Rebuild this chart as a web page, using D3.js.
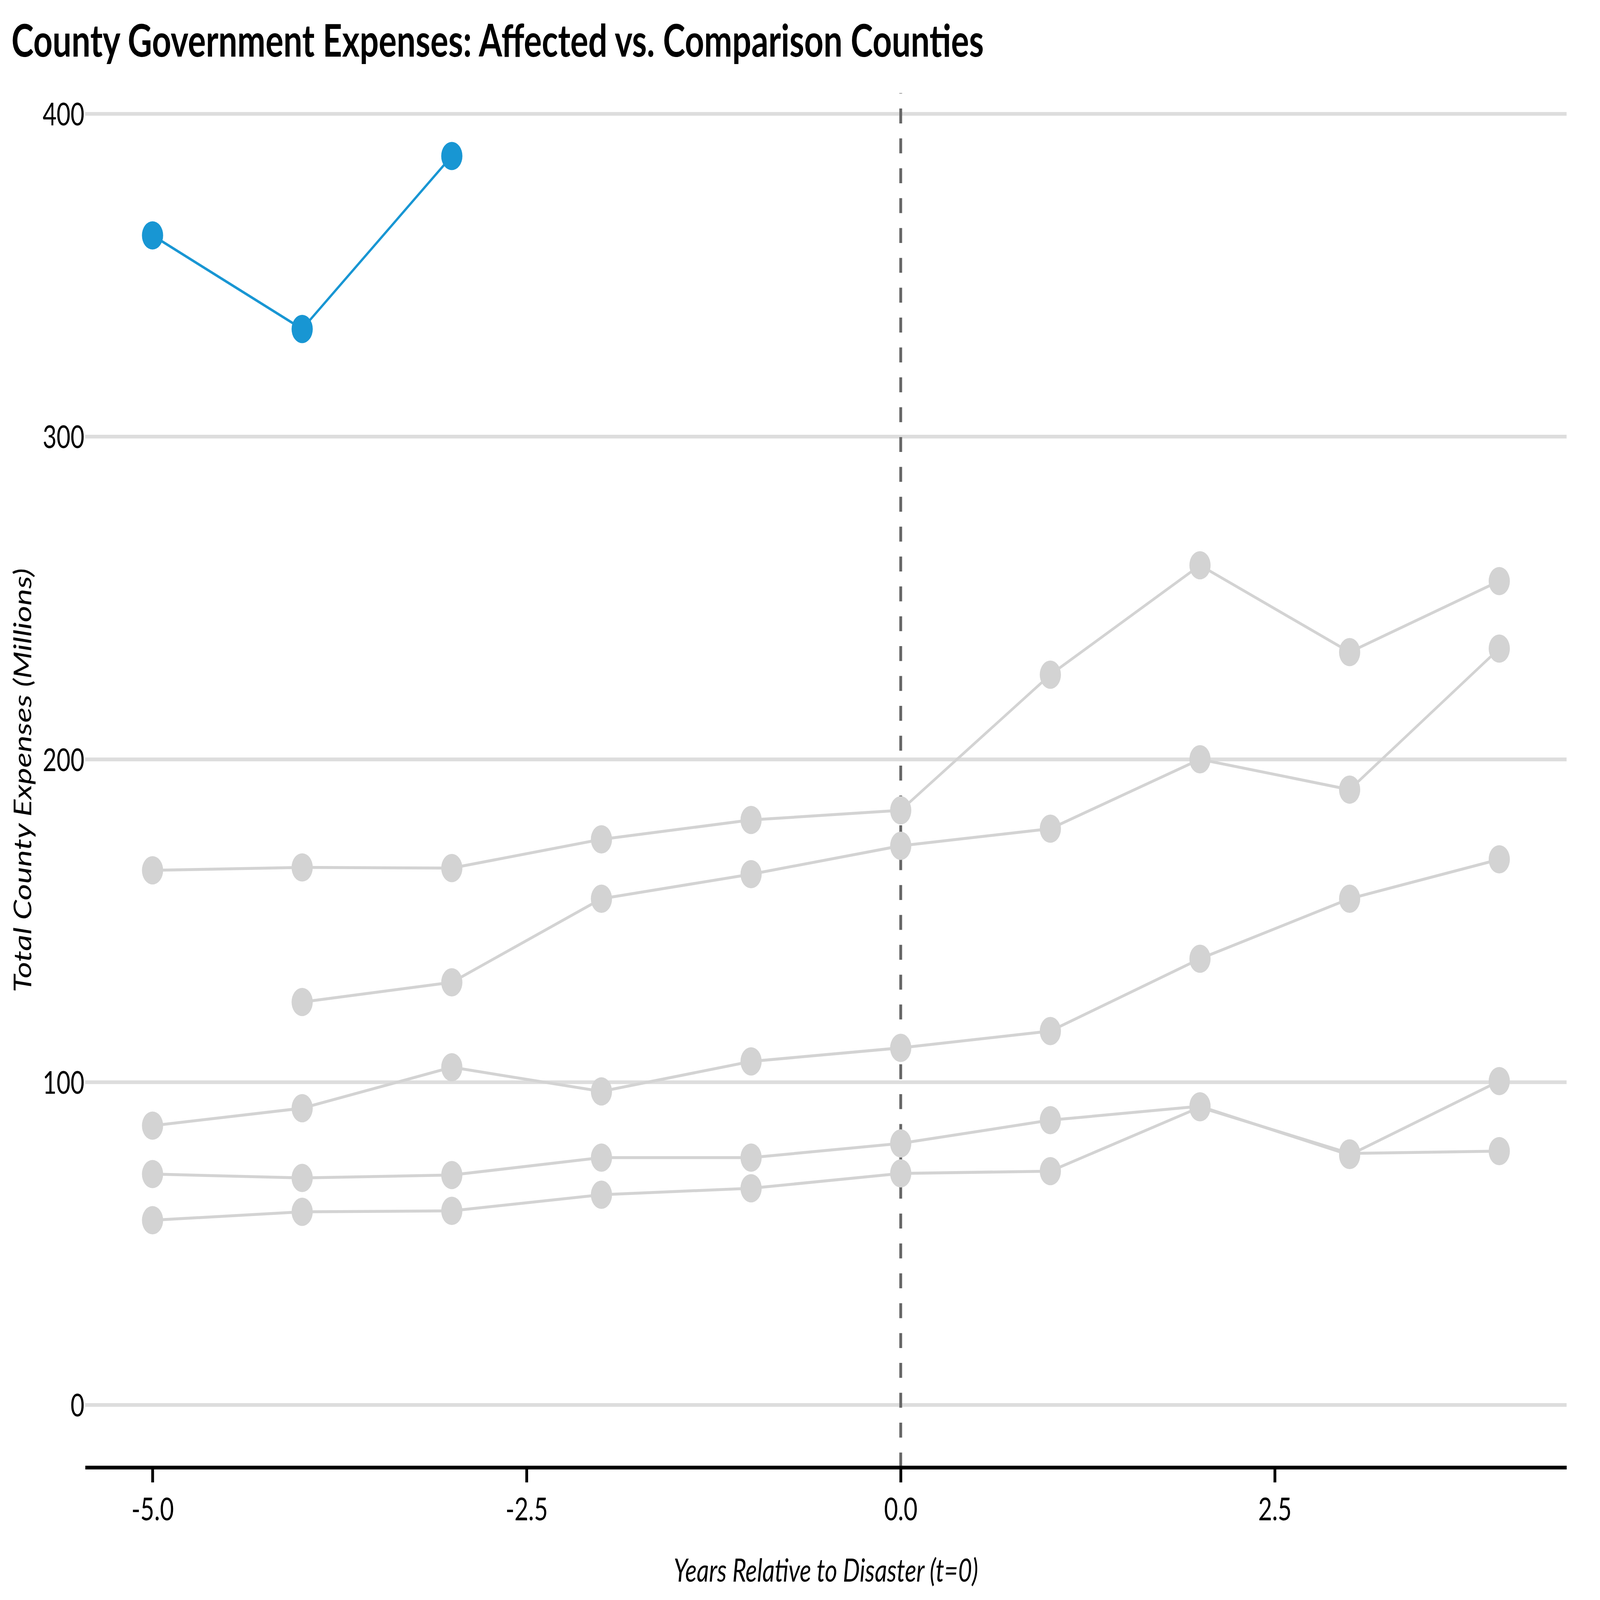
<!DOCTYPE html>
<html>
<head>
<meta charset="utf-8">
<script src="https://cdn.jsdelivr.net/npm/d3@7"></script>
<style>
  html, body { margin: 0; padding: 0; background: #fff; overflow: hidden; }
  svg { display: block; width: 100vw; height: 100vh; }
  text { font-family: Lato, "Noto Sans", sans-serif; }
</style>
</head>
<body>
<svg id="chart"></svg>
<script>
const width = 8000;
const height = 6000;

// years relative to the disaster
const years = [-5, -4, -3, -2, -1, 0, 1, 2, 3, 4];

// affected county (only pre-disaster years reported)
const affected = [362.3, 333.3, 386.9, null, null, null, null, null, null, null];

// comparison counties
const countyA = [165.6, 166.5, 166.3, 175.2, 181.2, 184.2, 226.2, 260.1, 233.2, 255.2];
const countyB = [null, 124.8, 130.9, 156.8, 164.4, 173.2, 178.5, 200.0, 190.6, 234.3];
const countyC = [86.5, 91.9, 104.6, 97.1, 106.4, 110.6, 115.8, 138.2, 156.8, 169.0];
const countyD = [71.5, 70.3, 71.2, 76.6, 76.6, 81.0, 88.2, 92.5, 77.4, 100.3];
const countyE = [57.2, 59.8, 60.1, 65.1, 67.1, 71.7, 72.4, 92.2, 77.9, 78.6];

const xTicks = [-5, -2.5, 0, 2.5];
const yTicks = [0, 100, 200, 300, 400];

const comparison = [countyA, countyB, countyC, countyD, countyE];

let plotLeft = 426, plotRight = 7833, plotTop = 349, plotBottom = 5503;

// the drawing is laid out on an 8000x6000 grid and scaled to the window
let svg = d3.select("#chart")
    .attr("viewBox", `0 0 ${width} ${height}`)
    .attr("preserveAspectRatio", "none");

let x = d3.scaleLinear().domain([-5.45, 4.45]).range([plotLeft, plotRight]);
let y = d3.scaleLinear().domain([-19.4, 406.4]).range([plotBottom, plotTop]);

// gridlines + y labels
let yAxis = svg.append("g")
    .attr("transform", `translate(${plotLeft},0)`)
    .call(d3.axisLeft(y).tickValues(yTicks).tickSize(-(plotRight - plotLeft)).tickPadding(4));
yAxis.select(".domain").remove();
yAxis.selectAll(".tick line").attr("stroke", "#dddddd").attr("stroke-width", 14);
yAxis.selectAll(".tick text")
    .attr("dy", "0.36em")
    .style("font-family", "Lato")
    .style("font-size", "120px")
    .attr("fill", "#000");

// disaster marker at t=0, drawn bottom-up so the dashes line up
svg.append("line")
    .attr("x1", x(0)).attr("x2", x(0))
    .attr("y1", plotBottom).attr("y2", plotTop)
    .attr("stroke", "#666666")
    .attr("stroke-width", 14)
    .attr("stroke-dasharray", "56,56");

let line = d3.line()
    .defined(d => d.v !== null)
    .x(d => x(d.t))
    .y(d => y(d.v));

function toPoints(series) {
    return years.map((t, i) => ({t: t, v: series[i]}));
}

function drawSeries(series, color, lineWidth) {
    let pts = toPoints(series);
    let g = svg.append("g");
    g.append("path")
        .datum(pts)
        .attr("d", line)
        .attr("fill", "none")
        .attr("stroke", color)
        .attr("stroke-width", lineWidth);
    g.selectAll("circle")
        .data(pts.filter(d => d.v !== null))
        .enter()
        .append("circle")
        .attr("cx", d => x(d.t))
        .attr("cy", d => y(d.v))
        .attr("r", 53)
        .attr("fill", color);
}

comparison.forEach(s => drawSeries(s, "#d3d3d3", 11));
drawSeries(affected, "#1896d3", 10);

// x axis (no end ticks)
let xAxis = svg.append("g")
    .attr("transform", `translate(0,${plotBottom})`)
    .call(d3.axisBottom(x).tickValues(xTicks).tickFormat(d => d.toFixed(1))
        .tickSize(56).tickSizeOuter(0).tickPadding(57));
xAxis.select(".domain").attr("stroke", "#000").attr("stroke-width", 14);
xAxis.selectAll(".tick line").attr("stroke", "#000").attr("stroke-width", 14);
xAxis.selectAll(".tick text")
    .style("font-family", "Lato")
    .style("font-size", "120px")
    .attr("fill", "#000");

// axis titles
svg.append("text")
    .attr("x", (plotLeft + plotRight) / 2)
    .attr("y", 5931)
    .attr("text-anchor", "middle")
    .style("font-size", "120px")
    .style("font-style", "italic")
    .text("Years Relative to Disaster (t=0)");

svg.append("text")
    .attr("transform", `translate(156,${(plotTop + plotBottom) / 2}) rotate(-90)`)
    .attr("text-anchor", "middle")
    .style("font-size", "120px")
    .style("font-style", "italic")
    .text("Total County Expenses (Millions)");

// chart title
svg.append("text")
    .attr("x", 57)
    .attr("y", 212)
    .style("font-size", "168px")
    .style("font-weight", "bold")
    .text("County Government Expenses: Affected vs. Comparison Counties");
</script>
</body>
</html>
